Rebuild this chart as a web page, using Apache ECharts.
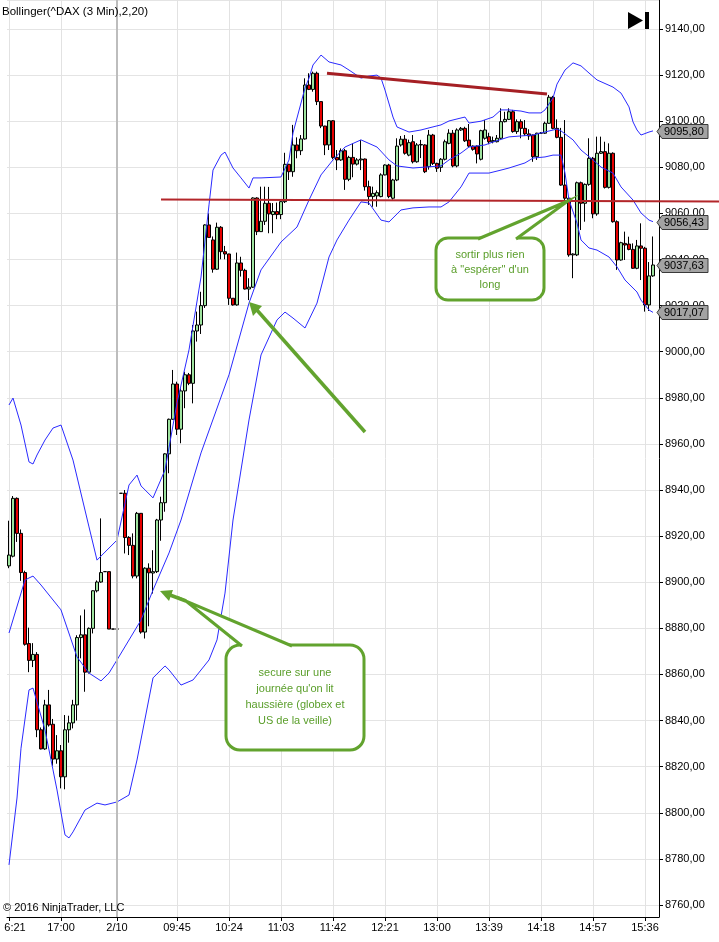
<!DOCTYPE html>
<html><head><meta charset="utf-8">
<script src="https://cdn.jsdelivr.net/npm/echarts@6/dist/echarts.min.js"></script>
<style>html,body{margin:0;padding:0;background:#fff}#c{width:719px;height:942px}</style>
</head><body><div id="c"></div>
<script>
const categories = ['16:21','16:24','16:27','16:30','16:33','16:36','16:39','16:42','16:45','16:48','16:51','16:54','16:57',
'17:00','17:03','17:06','17:09','17:12','17:15','17:18','17:21','17:24','17:27','17:30','17:33','17:36','17:39',
'2/10','09:03','09:06','09:09','09:12','09:15','09:18','09:21','09:24','09:27','09:30','09:33','09:36','09:39','09:42',
'09:45','09:48','09:51','09:54','09:57','10:00','10:03','10:06','10:09','10:12','10:15','10:18','10:21',
'10:24','10:27','10:30','10:33','10:36','10:39','10:42','10:45','10:48','10:51','10:54','10:57','11:00',
'11:03','11:06','11:09','11:12','11:15','11:18','11:21','11:24','11:27','11:30','11:33','11:36','11:39',
'11:42','11:45','11:48','11:51','11:54','11:57','12:00','12:03','12:06','12:09','12:12','12:15','12:18',
'12:21','12:24','12:27','12:30','12:33','12:36','12:39','12:42','12:45','12:48','12:51','12:54','12:57',
'13:00','13:03','13:06','13:09','13:12','13:15','13:18','13:21','13:24','13:27','13:30','13:33','13:36',
'13:39','13:42','13:45','13:48','13:51','13:54','13:57','14:00','14:03','14:06','14:09','14:12','14:15',
'14:18','14:21','14:24','14:27','14:30','14:33','14:36','14:39','14:42','14:45','14:48','14:51','14:54',
'14:57','15:00','15:03','15:06','15:09','15:12','15:15','15:18','15:21','15:24','15:27','15:30','15:33',
'15:36','15:39','15:42','15:45'];
const tickIndex = [0,13,27,42,55,68,81,94,107,120,133,146,159];
const tickText = ['6:21','17:00','2/10','09:45','10:24','11:03','11:42','12:21','13:00','13:39','14:18','14:57','15:36'];

const opens = [8907.1,8911.3,8936.4,8921.2,8904.2,8873.4,8866.1,8868.7,8836.0,8827.7,
8846.8,8838.4,8823.3,8826.9,8815.6,8836.0,8839.0,8846.8,8876.0,8877.2,
8861.0,8880.0,8896.3,8900.1,8904.6,8904.6,8879.7,8879.7,8938.6,8938.6,
8919.4,8916.0,8902.7,8929.9,8878.4,8906.1,8904.0,8904.6,8927.0,8934.5,
8955.7,8970.7,8986.0,8966.4,8983.0,8990.0,8986.3,9009.0,9011.6,9020.0,
9055.0,9048.5,9035.8,9054.0,9043.4,9042.4,9023.2,9020.3,9038.5,9035.3,
9027.2,9028.0,9066.7,9052.1,9056.6,9064.4,9059.5,9060.8,9059.5,9065.1,
9081.3,9078.1,9089.7,9087.2,9092.3,9115.7,9113.8,9120.8,9108.5,9097.9,
9089.7,9100.2,9084.3,9083.2,9087.2,9074.8,9084.3,9081.4,9083.2,9083.6,
9071.6,9067.3,9067.6,9067.3,9076.7,9081.0,9066.6,9074.5,9089.7,9092.2,
9085.3,9091.1,9082.4,9089.7,9089.7,9080.3,9094.0,9081.7,9080.0,9083.5,
9090.4,9094.8,9080.6,9096.2,9096.9,9091.8,9089.2,9089.2,9083.5,9092.6,
9093.3,9091.1,9091.1,9092.6,9099.8,9100.8,9104.1,9095.5,9099.8,9096.9,
9094.5,9094.0,9084.6,9094.8,9094.8,9099.1,9110.4,9096.9,9093.0,9072.3,
9066.6,9042.0,9042.0,9073.3,9064.4,9072.6,9083.9,9059.8,9086.1,9086.8,
9071.3,9086.1,9056.4,9039.8,9047.0,9046.7,9044.4,9036.2,9045.9,9044.9,
9020.3,9032.9];
const closes = [8911.8,8936.4,8921.2,8904.2,8873.1,8866.1,8868.7,8836.0,8827.7,8846.8,
8838.1,8823.3,8826.9,8815.6,8836.0,8839.0,8846.8,8876.0,8877.2,8861.0,
8880.0,8896.3,8900.1,8904.2,8904.6,8879.7,8879.7,8879.7,8938.6,8919.4,
8916.0,8902.7,8929.9,8878.4,8906.1,8904.1,8904.6,8927.0,8934.5,8955.7,
8970.7,8986.0,8966.4,8983.0,8990.0,8986.3,9009.0,9011.6,9020.0,9055.0,
9049.6,9035.8,9054.0,9043.4,9042.4,9023.2,9020.3,9038.5,9035.3,9027.2,
9028.0,9066.7,9052.1,9056.6,9064.4,9059.8,9060.8,9059.5,9065.1,9081.3,
9078.1,9089.7,9087.2,9092.3,9115.7,9113.8,9120.8,9108.5,9097.9,9089.7,
9100.2,9084.3,9083.2,9087.2,9074.8,9084.3,9081.4,9083.2,9083.6,9071.6,
9067.3,9068.7,9069.0,9076.7,9081.0,9067.3,9074.5,9089.2,9092.2,9086.1,
9090.7,9082.4,9089.7,9089.9,9078.1,9094.0,9081.7,9079.6,9083.5,9091.1,
9094.8,9080.6,9096.2,9096.9,9091.5,9089.2,9087.8,9085.8,9095.9,9096.2,
9091.1,9091.6,9092.6,9099.8,9100.8,9104.1,9095.5,9099.8,9096.9,9094.5,
9093.6,9084.6,9094.8,9094.8,9099.1,9110.4,9096.9,9093.0,9072.3,9066.6,
9042.0,9042.4,9073.3,9064.4,9072.6,9083.9,9059.8,9086.1,9086.8,9071.3,
9086.1,9056.4,9039.8,9047.3,9046.3,9044.4,9036.2,9045.9,9044.9,9020.3,
9032.9,9037.63];
const lows = [8906.1,8910.8,8917.5,8900.6,8872.5,8861.0,8863.2,8832.8,8827.5,8827.3,
8837.4,8820.4,8821.3,8810.6,8810.2,8830.4,8836.6,8840.0,8867.0,8852.5,
8860.4,8877.8,8895.6,8899.8,8904.6,8879.7,8879.7,8879.7,8938.6,8912.5,
8911.8,8901.7,8901.7,8877.7,8875.6,8880.9,8895.1,8904.0,8918.0,8930.6,
8947.3,8970.5,8963.9,8960.3,8975.5,8985.5,8977.6,9004.4,9007.7,9019.0,
9049.6,9034.3,9035.5,9040.1,9040.1,9020.3,9020.0,9020.0,9032.6,9027.0,
9022.4,9027.7,9050.6,9052.0,9055.0,9051.4,9051.4,9057.5,9057.5,9064.5,
9074.5,9075.9,9083.9,9085.3,9092.0,9113.5,9112.8,9107.0,9097.0,9085.3,
9087.5,9083.5,9078.8,9082.8,9070.2,9074.0,9075.7,9080.8,9078.8,9069.9,
9063.7,9062.9,9062.9,9067.0,9076.5,9066.6,9066.0,9074.0,9089.0,9085.5,
9084.8,9081.7,9082.0,9084.0,9077.5,9079.0,9081.0,9078.0,9078.0,9083.0,
9090.0,9080.0,9080.0,9095.8,9091.0,9088.7,9087.2,9081.7,9083.0,9092.0,
9090.0,9090.4,9090.8,9092.0,9099.5,9100.5,9095.0,9094.5,9092.6,9093.6,
9091.9,9082.4,9083.2,9094.5,9094.5,9098.9,9096.5,9092.6,9072.0,9065.8,
9041.2,9031.9,9041.5,9052.8,9056.4,9072.0,9057.9,9059.0,9085.8,9070.8,
9070.8,9056.0,9035.5,9039.5,9039.8,9044.0,9036.0,9035.8,9031.1,9017.4,
9017.7,9032.5];
const highs = [8926.7,8937.4,8936.8,8922.9,8905.0,8880.3,8873.6,8869.7,8837.0,8849.0,
8853.3,8840.7,8833.7,8829.4,8842.4,8842.1,8849.0,8877.0,8885.6,8888.2,
8880.4,8896.5,8900.8,8927.7,8904.6,8904.6,8879.7,8879.7,8938.6,8940.0,
8920.0,8921.2,8930.5,8930.0,8906.5,8908.2,8913.9,8927.5,8937.1,8956.0,
8971.0,8992.1,8987.0,8984.1,8991.3,8990.8,9011.6,9017.4,9026.0,9055.3,
9060.0,9050.0,9056.0,9054.5,9045.9,9042.5,9023.3,9043.0,9041.2,9036.0,
9031.9,9067.0,9067.0,9071.6,9071.6,9071.5,9064.5,9064.7,9065.3,9086.3,
9081.5,9098.4,9093.0,9094.0,9118.6,9120.8,9121.5,9121.5,9108.5,9098.0,
9100.5,9100.5,9087.5,9088.2,9088.0,9085.0,9090.4,9084.0,9091.9,9083.8,
9074.2,9071.6,9070.0,9077.4,9081.3,9081.5,9075.0,9092.6,9093.6,9094.0,
9092.0,9094.0,9090.5,9091.9,9090.0,9096.2,9094.5,9082.0,9084.0,9092.0,
9096.5,9096.2,9096.9,9097.5,9097.6,9098.8,9089.5,9089.5,9096.3,9100.5,
9095.0,9093.3,9094.0,9105.6,9104.1,9105.6,9104.9,9100.8,9100.8,9100.5,
9096.5,9094.2,9095.0,9095.3,9099.8,9111.4,9111.0,9100.8,9097.1,9100.5,
9066.8,9042.7,9073.8,9073.8,9073.0,9092.6,9084.5,9093.3,9093.3,9091.1,
9090.4,9086.5,9057.0,9047.7,9052.1,9049.9,9047.0,9048.5,9055.7,9045.5,
9038.9,9050.0];

// Bollinger bands, [bar index, value] read along each band
const upperBand = [[0,8976.9],[1,8979.9],[3,8968.2],[5,8952.2],[6,8951.3],[7,8955.2],[9,8961.7],[11,8966.9],[13,8968.2],[16,8953.0],[20,8924.0],[22,8909.6],[24,8913.1],[27,8918.3],[30,8942.2],[32,8946.5],[33,8941.8],[36,8936.6],[39,8948.7],[42,8977.8],[45,9000.8],[48,9032.4],[50,9063.7],[51,9078.8],[53,9085.3],[54,9086.6],[56,9079.7],[58,9075.4],[60,9071.0],[61,9075.4],[63,9075.4],[68,9075.8],[70,9083.2],[71,9094.9],[73,9107.9],[74,9114.4],[75,9118.7],[76,9124.4],[78,9128.7],[80,9125.7],[83,9124.4],[85,9122.2],[88,9118.7],[90,9119.6],[92,9120.0],[93,9118.7],[94,9113.5],[96,9101.8],[97,9097.5],[100,9095.3],[103,9096.2],[105,9097.1],[108,9098.4],[110,9100.1],[113,9101.4],[114,9101.8],[115,9099.2],[118,9100.0],[121,9101.8],[123,9104.9],[125,9104.9],[128,9104.4],[130,9103.6],[133,9103.6],[134,9104.9],[136,9110.1],[137,9116.1],[139,9122.2],[141,9125.3],[143,9124.0],[145,9120.9],[147,9117.9],[151,9114.8],[153,9112.2],[155,9106.2],[156,9099.7],[157,9096.2],[158,9094.0],[160,9095.3],[161,9095.80]];
const middleBand = [[0,8878.0],[4,8901.0],[6,8902.7],[8,8898.8],[13,8888.0],[17,8867.6],[20,8860.6],[23,8857.2],[25,8860.6],[27,8866.3],[33,8883.6],[36,8896.6],[40,8912.7],[43,8927.0],[48,8956.1],[55,8990.0],[60,9021.1],[63,9035.5],[68,9047.6],[72,9054.1],[75,9065.8],[78,9076.7],[81,9083.2],[84,9088.8],[88,9091.9],[92,9088.8],[95,9083.2],[97,9080.6],[101,9079.7],[104,9080.1],[108,9080.6],[110,9083.2],[113,9086.2],[115,9088.8],[119,9089.7],[121,9091.0],[125,9093.2],[128,9093.6],[131,9094.0],[133,9094.9],[137,9096.6],[138,9095.8],[141,9091.9],[143,9087.5],[146,9083.2],[148,9080.1],[151,9077.5],[153,9071.5],[156,9065.8],[158,9060.2],[160,9057.1],[161,9056.43]];
const lowerBand = [[0,8777.4],[2,8806.4],[3,8828.0],[5,8853.3],[6,8854.1],[9,8835.9],[11,8818.6],[12,8809.9],[14,8790.4],[15,8789.1],[16,8791.7],[19,8801.2],[22,8804.2],[24,8803.4],[27,8804.7],[30,8807.7],[32,8822.9],[36,8858.5],[39,8863.7],[40,8862.0],[43,8855.4],[46,8857.6],[50,8866.3],[52,8875.0],[54,8895.3],[56,8927.0],[60,8970.4],[63,8998.6],[67,9013.8],[69,9017.2],[71,9014.6],[74,9010.3],[77,9021.1],[80,9041.1],[82,9048.5],[85,9057.1],[88,9065.0],[90,9064.5],[93,9057.1],[95,9056.3],[98,9061.5],[101,9062.4],[105,9062.8],[108,9062.8],[110,9065.0],[113,9071.5],[115,9077.5],[120,9077.5],[123,9078.8],[125,9079.7],[129,9081.9],[131,9084.0],[134,9084.5],[136,9085.3],[138,9085.3],[139,9077.5],[140,9065.8],[142,9055.8],[143,9048.5],[145,9045.0],[147,9044.1],[150,9041.1],[152,9036.8],[154,9031.1],[157,9025.9],[158,9022.4],[160,9018.1],[161,9017.07]];

// drawn lines: [startIndex, startValue, endIndex, endValue]
const supportLine = [38, 9066.0, 178, 9065.2];
const resistanceLine = [79.5, 9120.8, 134.5, 9111.8];

const FONT = '"Liberation Sans", Arial, sans-serif';
const fmt = v => v.toFixed(2).replace('.', ',');
const candleData = opens.map((o, i) => [o, closes[i], lows[i], highs[i]]);
const lastIdx = closes.length - 1;
const last = arr => arr[arr.length - 1];
const priceTags = [last(upperBand), last(middleBand), last(lowerBand), [lastIdx, closes[lastIdx]]];
const isTick = i => tickIndex.indexOf(i) >= 0;

const chart = echarts.init(document.getElementById('c'), null, {renderer: 'canvas'});
chart.setOption({
  animation: false,
  backgroundColor: '#fff',
  grid: {left: 7, top: 0, width: 652, height: 917, containLabel: false, outerBoundsMode: 'none'},
  xAxis: {
    type: 'category', data: categories, boundaryGap: true,
    axisLine: {show: true, lineStyle: {color: '#000'}},
    axisTick: {show: true, alignWithLabel: true, interval: isTick, length: 4, lineStyle: {color: '#000'}},
    axisLabel: {interval: isTick,
      formatter: (v, i) => { const t = tickText[tickIndex.indexOf(i)]; return i === 0 ? '{first|' + t + '}' : t; },
      rich: {first: {padding: [0, 0, 0, 12], color: '#000', fontSize: 11, fontFamily: FONT}},
      color: '#000', fontSize: 11, fontFamily: FONT, margin: 5},
    splitLine: {show: true, interval: isTick, alignWithLabel: true, lineStyle: {color: '#e2e2e2'}}
  },
  yAxis: {
    type: 'value', position: 'right', min: 8754.79, max: 9152.58, splitNumber: 20,
    axisLine: {show: true, lineStyle: {color: '#000'}},
    axisTick: {show: true, length: 4, lineStyle: {color: '#000'}},
    axisLabel: {showMinLabel: false, showMaxLabel: false, formatter: fmt, color: '#000', fontSize: 11, fontFamily: FONT, margin: 6},
    splitLine: {show: true, lineStyle: {color: '#e4e4e4'}}
  },
  series: [
    {
      type: 'candlestick', data: candleData, barWidth: 3,
      itemStyle: {color: '#9ee39e', color0: '#e60000', borderColor: '#000', borderColor0: '#000', borderWidth: 1},
      markLine: {symbol: 'none', silent: true, label: {show: false},
        lineStyle: {color: '#bdbdbd', width: 2, type: 'solid'}, data: [{xAxis: '2/10'}]}
    },
    {type: 'line', data: upperBand, symbol: 'none', silent: true, lineStyle: {color: '#2a2aff', width: 1}, z: 3},
    {type: 'line', data: middleBand, symbol: 'none', silent: true, lineStyle: {color: '#2a2aff', width: 1}, z: 3},
    {type: 'line', data: lowerBand, symbol: 'none', silent: true, lineStyle: {color: '#2a2aff', width: 1}, z: 3},
    {
      type: 'custom', data: [supportLine, resistanceLine], silent: true, z: 4,
      renderItem: (params, api) => {
        const bw = api.size([1, 0])[0];
        const at = (i, v) => { const b = Math.floor(i); const p = api.coord([b, v]); p[0] += (i - b) * bw; return p; };
        const a = at(api.value(0), api.value(1));
        const b = at(api.value(2), api.value(3));
        const isRes = params.dataIndex === 1;
        return {type: 'line', shape: {x1: a[0], y1: a[1], x2: b[0], y2: b[1]},
          style: {stroke: isRes ? '#a51f24' : '#b3262a', lineWidth: isRes ? 3 : 2}};
      }
    },
    {
      type: 'custom', data: priceTags, silent: true, z: 6, clip: false,
      renderItem: (params, api) => {
        const y = Math.round(api.coord([api.value(0), api.value(1)])[1]) + 0.5;
        const x0 = params.coordSys.x + params.coordSys.width;
        return {type: 'group', children: [
          {type: 'polygon', shape: {points: [[x0 - 2, y], [x0 + 3, y - 7], [x0 + 49, y - 7], [x0 + 49, y + 7], [x0 + 3, y + 7]]},
            style: {fill: '#a3a3a3', stroke: '#3a3a3a', lineWidth: 1}},
          {type: 'text', style: {text: fmt(api.value(1)), x: x0 + 5, y: y + 0.5, verticalAlign: 'middle', align: 'left', font: '11px ' + FONT, fill: '#000'}}
        ]};
      }
    }
  ],
  graphic: [
    {type: 'text', z: 100, style: {text: 'Bollinger(^DAX (3 Min),2,20)', x: 2, y: 6, font: '11.5px ' + FONT, fill: '#000'}},
    {type: 'text', z: 100, style: {text: '© 2016 NinjaTrader, LLC', x: 3, y: 902, font: '11px ' + FONT, fill: '#000'}},
    {type: 'polygon', z: 100, shape: {points: [[628, 12], [628, 29], [643, 20.5]]}, style: {fill: '#000'}},
    {type: 'rect', z: 100, shape: {x: 645, y: 12, width: 4, height: 17}, style: {fill: '#000'}},
    // arrow to the 10:30 low
    {type: 'line', z: 100, shape: {x1: 365, y1: 432, x2: 256, y2: 309}, style: {stroke: '#62a32e', lineWidth: 3.5}},
    {type: 'polygon', z: 100, shape: {points: [[249, 302], [262, 306], [253, 316]]}, style: {fill: '#62a32e'}},
    // callout 1
    {type: 'rect', z: 100, shape: {x: 226, y: 645, width: 138, height: 105, r: 14}, style: {fill: '#fff', stroke: '#62a32e', lineWidth: 3}},
    {type: 'polygon', z: 101, shape: {points: [[242, 647], [186, 601], [292, 647]]}, style: {fill: '#fff'}},
    {type: 'polyline', z: 101, shape: {points: [[242, 646], [186, 601], [292, 646]]}, style: {stroke: '#62a32e', lineWidth: 3, fill: null}},
    {type: 'line', z: 101, shape: {x1: 186, y1: 601, x2: 170, y2: 595}, style: {stroke: '#62a32e', lineWidth: 3.5}},
    {type: 'polygon', z: 101, shape: {points: [[160, 591], [173, 590], [169, 601]]}, style: {fill: '#62a32e'}},
    {type: 'text', z: 102, style: {text: 'secure sur une\njournée qu\'on lit\nhaussière (globex et\nUS de la veille)', x: 295, y: 697, align: 'center', verticalAlign: 'middle', lineHeight: 16, font: '11px ' + FONT, fill: '#5a9e2a'}},
    // callout 2
    {type: 'rect', z: 100, shape: {x: 436, y: 238, width: 108, height: 62, r: 12}, style: {fill: '#fff', stroke: '#62a32e', lineWidth: 3}},
    {type: 'polygon', z: 101, shape: {points: [[478, 240], [568, 201], [516, 240]]}, style: {fill: '#fff'}},
    {type: 'polyline', z: 101, shape: {points: [[478, 239], [568, 201], [516, 239]]}, style: {stroke: '#62a32e', lineWidth: 3, fill: null}},
    {type: 'text', z: 102, style: {text: 'sortir plus rien\nà "espérer" d\'un\nlong', x: 490, y: 270, align: 'center', verticalAlign: 'middle', lineHeight: 15, font: '11px ' + FONT, fill: '#5a9e2a'}}
  ]
});
</script>
</body></html>
